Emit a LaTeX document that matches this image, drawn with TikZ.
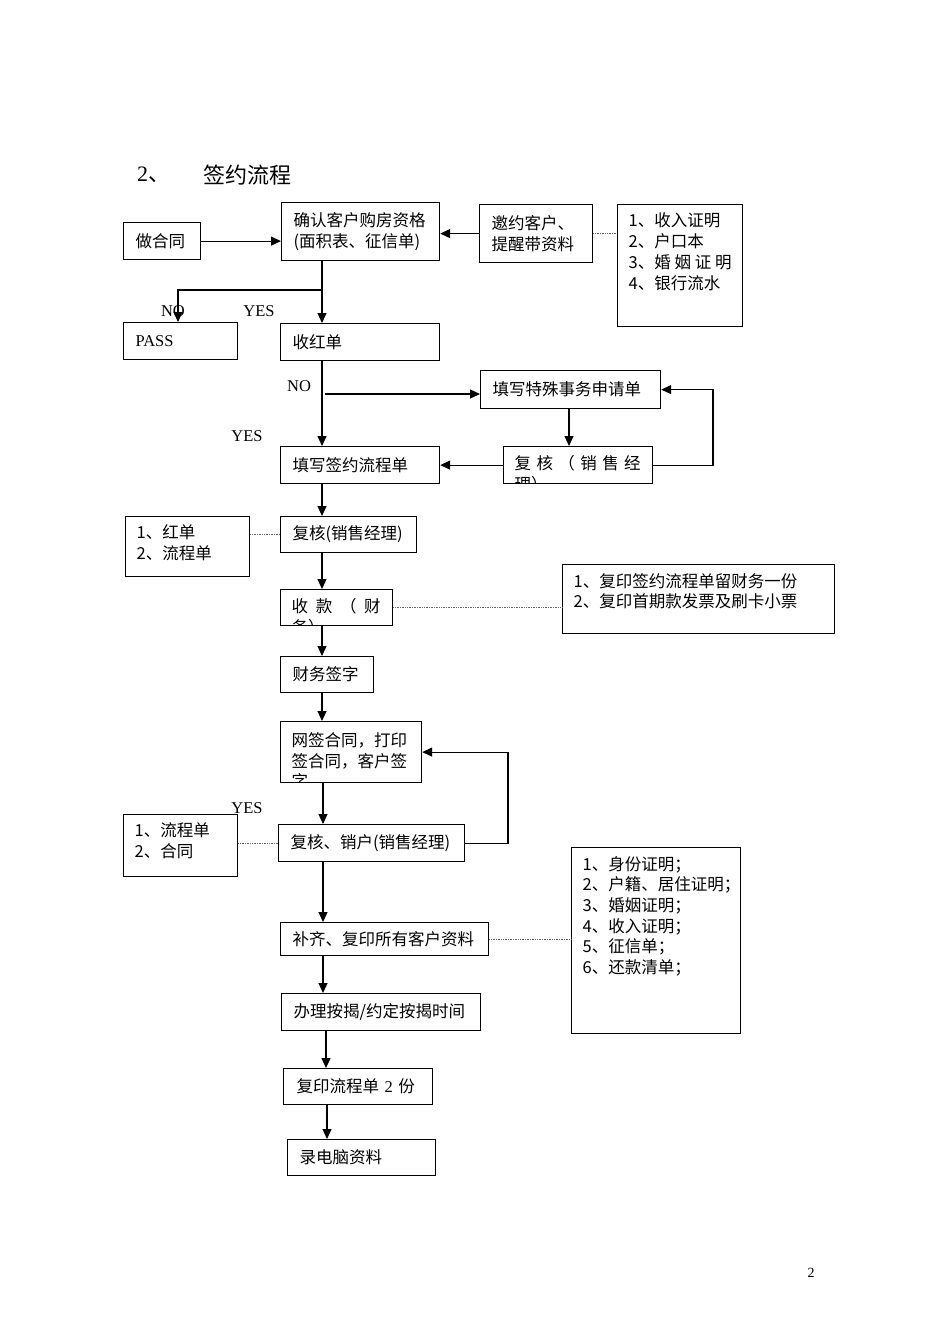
\documentclass[tikz,border=0pt]{standalone}
\usepackage{fontspec}
\setmainfont{Liberation Serif}
\newfontfamily\cjk{Noto Sans CJK SC}
\usetikzlibrary{arrows.meta}
\newcommand\flowfont{\cjk\fontsize{16.5}{20.7}\selectfont}
\newcommand\labelfont{\fontsize{16.5}{20}\selectfont}

\begin{document}
\begin{tikzpicture}[x=1pt,y=-1pt,
  box/.style={draw,line width=1.2pt,anchor=north west,inner xsep=12pt,inner ysep=0pt,align=left,font=\flowfont},
  listbox/.style={draw,line width=1.2pt,anchor=north west,inner xsep=11pt,inner ysep=8.5pt,font=\flowfont},
  cutbox/.style={draw,line width=1.2pt,anchor=north west,inner sep=0pt},
  cuttext/.style={anchor=north west,inner sep=0pt,align=left,font=\flowfont},
  arr/.style={-{Triangle[length=10pt,width=9pt]},line width=1.2pt},
  note/.style={densely dotted,line width=0.7pt,black!60},
  tag/.style={inner sep=0pt,font=\labelfont}]

\useasboundingbox (0,0) rectangle (950,1344);

% Title
\node[tag,anchor=west,font=\cjk\fontsize{22}{26}\selectfont] (num) at (137,175) {{\rmfamily 2}、};
\node[tag,anchor=west,font=\cjk\fontsize{22}{26}\selectfont] (title) at (203,175) {签约流程};

% Main steps
\node[box,text width=53pt,minimum height=37pt] (hetong) at (123,222) {做合同};
\node[box,text width=134pt,minimum height=58pt] (queren) at (281,202) {确认客户购房资格\\(面积表、征信单)};
\node[box,text width=89pt,minimum height=58pt] (yaoyue) at (479,204) {邀约客户、\\提醒带资料};
\node[box,text width=90pt,minimum height=37pt,font=\labelfont] (pass) at (123,322) {PASS};
\node[box,text width=135pt,minimum height=37pt] (hongdan) at (280,323) {收红单};
\node[box,text width=156pt,minimum height=38pt] (teshu) at (480,370) {填写特殊事务申请单};
\node[box,text width=135pt,minimum height=37pt] (liucheng) at (280,446) {填写签约流程单};
\node[cutbox,minimum width=149pt,minimum height=37pt,
  path picture={\node[cuttext,text width=126pt] (fuhe1text) at ([xshift=-1pt,yshift=-8pt]path picture bounding box.north west)
    {复\hfill 核\hfill （\hfill 销\hfill 售\hfill 经\\理）};}] (fuhe1) at (503,446) {};
\node[box,text width=112pt,minimum height=36pt] (fuhe2) at (280,516) {复核(销售经理)};
\node[cutbox,minimum width=112pt,minimum height=36pt,
  path picture={\node[cuttext,text width=89pt] (shoukuantext) at ([xshift=-1pt,yshift=-8pt]path picture bounding box.north west)
    {收\hfill 款\hfill （\hfill 财\\务）};}] (shoukuan) at (280,589) {};
\node[box,text width=69pt,minimum height=36pt] (qianzi) at (280,656) {财务签字};
\node[cutbox,minimum width=141pt,minimum height=61pt,
  path picture={\node[cuttext,text width=118pt] (wangqiantext) at ([xshift=-1pt,yshift=-8pt]path picture bounding box.north west)
    {网签合同，打印\\签合同，客户签\\字};}] (wangqian) at (280,721) {};
\node[box,text width=162pt,minimum height=37pt] (xiaohu) at (278,824) {复核、销户(销售经理)};
\node[box,text width=184pt,minimum height=33pt] (buqi) at (280,922) {补齐、复印所有客户资料};
\node[box,text width=175pt,minimum height=37pt] (anjie) at (281,993) {办理按揭/约定按揭时间};
\node[box,text width=123pt,minimum height=36pt,inner xsep=13pt] (fuyin) at (283,1068) {复印流程单 {\rmfamily 2} 份};
\node[box,text width=124pt,minimum height=36pt] (diannao) at (287,1139) {录电脑资料};

% Lists of papers
\node[listbox] (ziliao) at (617,204) {\parbox[c][105pt][t]{103pt}{1、收入证明\\2、户口本\\3、婚\hfill 姻\hfill 证\hfill 明\\4、银行流水}};
\node[listbox] (hongdanlist) at (125,516) {\parbox[c][43pt][t]{102pt}{1、红单\\2、流程单}};
\node[listbox] (caiwulist) at (562,564) {\parbox[c][52pt][t]{250pt}{1、复印签约流程单留财务一份\\2、复印首期款发票及刷卡小票}};
\node[listbox] (hetonglist) at (123,814) {\parbox[c][45pt][t]{92pt}{1、流程单\\2、合同}};
\node[listbox] (kehulist) at (571,847) {\parbox[c][169pt][t]{147pt}{1、身份证明；\\2、户籍、居住证明；\\3、婚姻证明；\\4、收入证明；\\5、征信单；\\6、还款清单；}};

% Labels
\node[tag] (no1) at (173,311) {NO};
\node[tag] (yes1) at (259,311) {YES};
\node[tag] (no2) at (299,386) {NO};
\node[tag] (yes2) at (247,436) {YES};
\node[tag] (yes3) at (247,808) {YES};
\node[tag,font=\fontsize{14}{16}\selectfont] (page) at (811,1273) {2};

% Turning points
\coordinate (sp) at (322,0);
\coordinate (spb) at (323,0);
\coordinate (spc) at (326,0);
\coordinate (spd) at (327,0);
\coordinate (br) at (322,290);
\coordinate (brno) at (178,290);
\coordinate (nobr) at (325,394);
\coordinate (mid) at (569,0);
\coordinate (lpa) at (713,0);
\coordinate (lpb) at (508,0);

% Connectors
\draw[arr] (hetong.east) -- (hetong.east -| queren.west);
\draw[arr] (yaoyue.west) -- (yaoyue.west -| queren.east);
\draw[note] (yaoyue.east) -- (yaoyue.east -| ziliao.west);
\draw[arr] (queren.south -| sp) -- (hongdan.north -| sp);
\draw[arr] (br) -- (brno) -- (brno |- pass.north);
\draw[arr] (hongdan.south -| sp) -- (liucheng.north -| sp);
\draw[arr] (nobr) -- (nobr -| teshu.west);
\draw[arr] (teshu.south -| mid) -- (fuhe1.north -| mid);
\draw[arr] (fuhe1.east) -- (fuhe1.east -| lpa) |- (teshu.east);
\draw[arr] (fuhe1.west) -- (fuhe1.west -| liucheng.east);
\draw[arr] (liucheng.south -| sp) -- (fuhe2.north -| sp);
\draw[note] (fuhe2.west -| hongdanlist.east) -- (fuhe2.west);
\draw[arr] (fuhe2.south -| sp) -- (shoukuan.north -| sp);
\draw[note] (shoukuan.east) -- (shoukuan.east -| caiwulist.west);
\draw[arr] (shoukuan.south -| sp) -- (qianzi.north -| sp);
\draw[arr] (qianzi.south -| sp) -- (wangqian.north -| sp);
\draw[arr] (wangqian.south -| spb) -- (xiaohu.north -| spb);
\draw[arr] (xiaohu.east) -- (xiaohu.east -| lpb) |- (wangqian.east);
\draw[note] (xiaohu.west -| hetonglist.east) -- (xiaohu.west);
\draw[arr] (xiaohu.south -| spb) -- (buqi.north -| spb);
\draw[note] (buqi.east) -- (buqi.east -| kehulist.west);
\draw[arr] (buqi.south -| spb) -- (anjie.north -| spb);
\draw[arr] (anjie.south -| spc) -- (fuyin.north -| spc);
\draw[arr] (fuyin.south -| spd) -- (diannao.north -| spd);
\end{tikzpicture}
\end{document}
